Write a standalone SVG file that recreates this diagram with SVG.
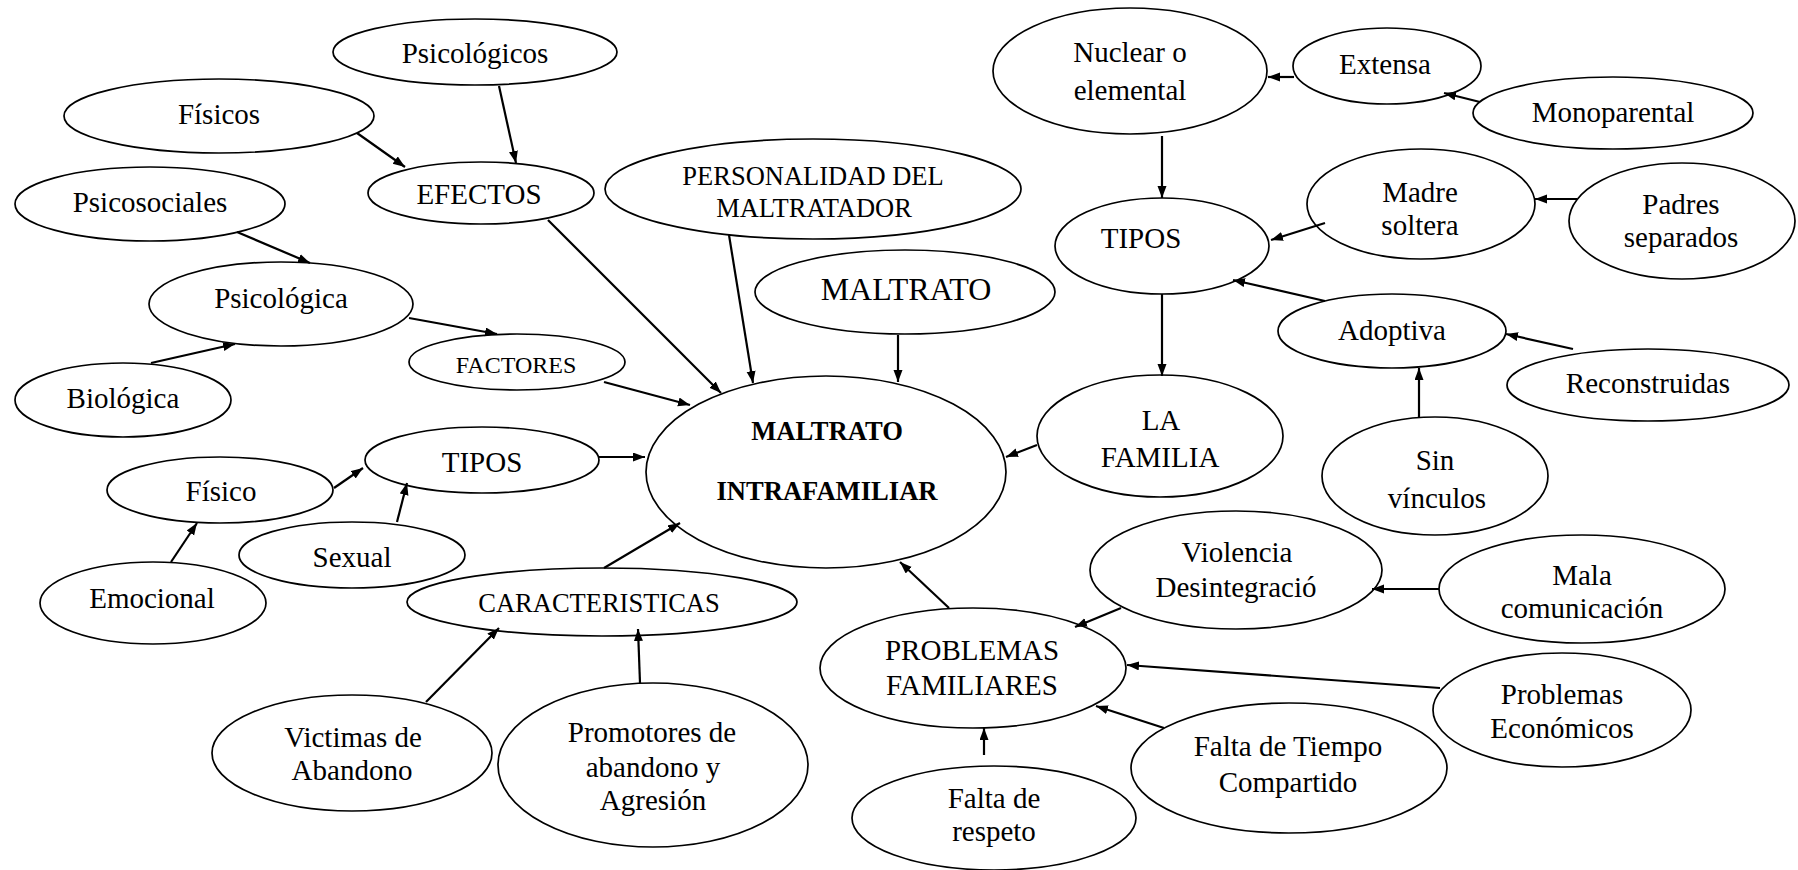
<svg xmlns="http://www.w3.org/2000/svg" width="1798" height="870" viewBox="0 0 1798 870">
<style>
  ellipse { fill: #ffffff; stroke: #000000; stroke-width: 1.7; }
  text { font-family: "Liberation Serif", "Times New Roman", serif; font-size: 29px; fill: #000000; text-anchor: middle; }
  .c line { stroke: #000000; stroke-width: 2.2; marker-end: url(#ah); }
  .s26 { font-size: 26.5px; }
  .s24 { font-size: 24px; }
  .s32 { font-size: 32px; }
  .bold { font-weight: bold; font-size: 26.6px; }
</style>
<defs>
  <marker id="ah" markerUnits="userSpaceOnUse" markerWidth="14" markerHeight="10" refX="12" refY="4.5" orient="auto">
    <path d="M0,0 L12,4.5 L0,9 z" fill="#000000"/>
  </marker>
</defs>
<rect width="1798" height="870" fill="#ffffff"/>

<g id="nodes">
  <g id="psicologicos"><ellipse cx="475" cy="52" rx="142" ry="33"/><text x="475" y="63">Psicológicos</text></g>
  <g id="fisicos"><ellipse cx="219" cy="116" rx="155" ry="37"/><text x="219" y="124">Físicos</text></g>
  <g id="efectos"><ellipse cx="481" cy="193" rx="113" ry="31"/><text x="479" y="204">EFECTOS</text></g>
  <g id="psicosociales"><ellipse cx="150" cy="204" rx="135" ry="37"/><text x="150" y="212">Psicosociales</text></g>
  <g id="psicologica"><ellipse cx="281" cy="304" rx="132" ry="42"/><text x="281" y="308">Psicológica</text></g>
  <g id="factores"><ellipse cx="517" cy="362" rx="108" ry="28"/><text class="s24" x="516" y="373">FACTORES</text></g>
  <g id="biologica"><ellipse cx="123" cy="400" rx="108" ry="37"/><text x="123" y="408">Biológica</text></g>
  <g id="personalidad"><ellipse cx="813" cy="189" rx="208" ry="50"/><text class="s26" x="813" y="185">PERSONALIDAD DEL</text><text class="s26" x="814" y="217">MALTRATADOR</text></g>
  <g id="maltrato"><ellipse cx="905" cy="292" rx="150" ry="42"/><text class="s32" x="906" y="300">MALTRATO</text></g>
  <g id="maltrato-intrafamiliar"><ellipse cx="826" cy="472" rx="180" ry="96"/><text class="bold" x="827" y="440">MALTRATO</text><text class="bold" x="827" y="500">INTRAFAMILIAR</text></g>
  <g id="tipos-izq"><ellipse cx="482" cy="460" rx="117" ry="33"/><text x="482" y="472">TIPOS</text></g>
  <g id="fisico"><ellipse cx="220" cy="490" rx="113" ry="33"/><text x="221" y="501">Físico</text></g>
  <g id="sexual"><ellipse cx="352" cy="555" rx="113" ry="33"/><text x="352" y="567">Sexual</text></g>
  <g id="emocional"><ellipse cx="153" cy="603" rx="113" ry="41"/><text x="152" y="608">Emocional</text></g>
  <g id="caracteristicas"><ellipse cx="602" cy="602" rx="195" ry="34"/><text class="s26" x="599" y="612">CARACTERISTICAS</text></g>
  <g id="victimas"><ellipse cx="352" cy="753" rx="140" ry="58"/><text x="353" y="747">Victimas de</text><text x="352" y="780">Abandono</text></g>
  <g id="promotores"><ellipse cx="653" cy="765" rx="155" ry="82"/><text x="652" y="742">Promotores de</text><text x="653" y="777">abandono y</text><text x="653" y="810">Agresión</text></g>
  <g id="nuclear"><ellipse cx="1130" cy="71" rx="137" ry="63"/><text x="1130" y="62">Nuclear o</text><text x="1130" y="100">elemental</text></g>
  <g id="extensa"><ellipse cx="1387" cy="66" rx="94" ry="38"/><text x="1385" y="74">Extensa</text></g>
  <g id="monoparental"><ellipse cx="1613" cy="113" rx="140" ry="36"/><text x="1613" y="122">Monoparental</text></g>
  <g id="tipos-der"><ellipse cx="1162" cy="246" rx="107" ry="48"/><text x="1141" y="248">TIPOS</text></g>
  <g id="madre-soltera"><ellipse cx="1421" cy="204" rx="114" ry="55"/><text x="1420" y="202">Madre</text><text x="1420" y="235">soltera</text></g>
  <g id="padres-separados"><ellipse cx="1682" cy="221" rx="113" ry="58"/><text x="1681" y="214">Padres</text><text x="1681" y="247">separados</text></g>
  <g id="adoptiva"><ellipse cx="1392" cy="331" rx="114" ry="37"/><text x="1392" y="340">Adoptiva</text></g>
  <g id="reconstruidas"><ellipse cx="1648" cy="385" rx="141" ry="36"/><text x="1648" y="393">Reconstruidas</text></g>
  <g id="la-familia"><ellipse cx="1160" cy="436" rx="123" ry="61"/><text x="1161" y="430">LA</text><text x="1160" y="467">FAMILIA</text></g>
  <g id="sin-vinculos"><ellipse cx="1435" cy="476" rx="113" ry="59"/><text x="1435" y="470">Sin</text><text x="1437" y="508">vínculos</text></g>
  <g id="violencia"><ellipse cx="1236" cy="570" rx="146" ry="59"/><text x="1237" y="562">Violencia</text><text x="1236" y="597">Desintegració</text></g>
  <g id="mala-comunicacion"><ellipse cx="1582" cy="589" rx="143" ry="54"/><text x="1582" y="585">Mala</text><text x="1582" y="618">comunicación</text></g>
  <g id="problemas-economicos"><ellipse cx="1562" cy="710" rx="129" ry="57"/><text x="1562" y="704">Problemas</text><text x="1562" y="738">Económicos</text></g>
  <g id="problemas-familiares"><ellipse cx="973" cy="668" rx="153" ry="60"/><text x="972" y="660">PROBLEMAS</text><text x="972" y="695">FAMILIARES</text></g>
  <g id="falta-tiempo"><ellipse cx="1289" cy="768" rx="158" ry="65"/><text x="1288" y="756">Falta de Tiempo</text><text x="1288" y="792">Compartido</text></g>
  <g id="falta-respeto"><ellipse cx="994" cy="818" rx="142" ry="52"/><text x="994" y="808">Falta de</text><text x="994" y="841">respeto</text></g>
</g>

<g id="connectors" class="c">
  <line x1="357" y1="133" x2="405" y2="167"/>
  <line x1="499" y1="86" x2="516" y2="163"/>
  <line x1="548" y1="220" x2="721" y2="393"/>
  <line x1="237" y1="232" x2="310" y2="263"/>
  <line x1="151" y1="363" x2="235" y2="344"/>
  <line x1="409" y1="318" x2="497" y2="334"/>
  <line x1="604" y1="382" x2="690" y2="405"/>
  <line x1="729" y1="235" x2="753" y2="383"/>
  <line x1="898" y1="335" x2="898" y2="382"/>
  <line x1="1162" y1="136" x2="1162" y2="198"/>
  <line x1="1162" y1="294" x2="1162" y2="376"/>
  <line x1="1294" y1="77" x2="1268" y2="77"/>
  <line x1="1480" y1="102" x2="1444" y2="93"/>
  <line x1="1325" y1="223" x2="1271" y2="240"/>
  <line x1="1577" y1="199" x2="1535" y2="199"/>
  <line x1="1325" y1="301" x2="1233" y2="280"/>
  <line x1="1573" y1="349" x2="1506" y2="334"/>
  <line x1="1419" y1="417" x2="1419" y2="368"/>
  <line x1="1037" y1="445" x2="1006" y2="457"/>
  <line x1="334" y1="488" x2="363" y2="468"/>
  <line x1="397" y1="522" x2="407" y2="483"/>
  <line x1="171" y1="562" x2="197" y2="523"/>
  <line x1="599" y1="457" x2="645" y2="457"/>
  <line x1="604" y1="568" x2="680" y2="523"/>
  <line x1="426" y1="702" x2="499" y2="628"/>
  <line x1="640" y1="683" x2="638" y2="629"/>
  <line x1="949" y1="608" x2="900" y2="562"/>
  <line x1="1121" y1="608" x2="1075" y2="627"/>
  <line x1="1439" y1="589" x2="1372" y2="589"/>
  <line x1="1440" y1="688" x2="1127" y2="665"/>
  <line x1="1164" y1="728" x2="1096" y2="706"/>
  <line x1="984" y1="755" x2="984" y2="728"/>
</g>
</svg>
